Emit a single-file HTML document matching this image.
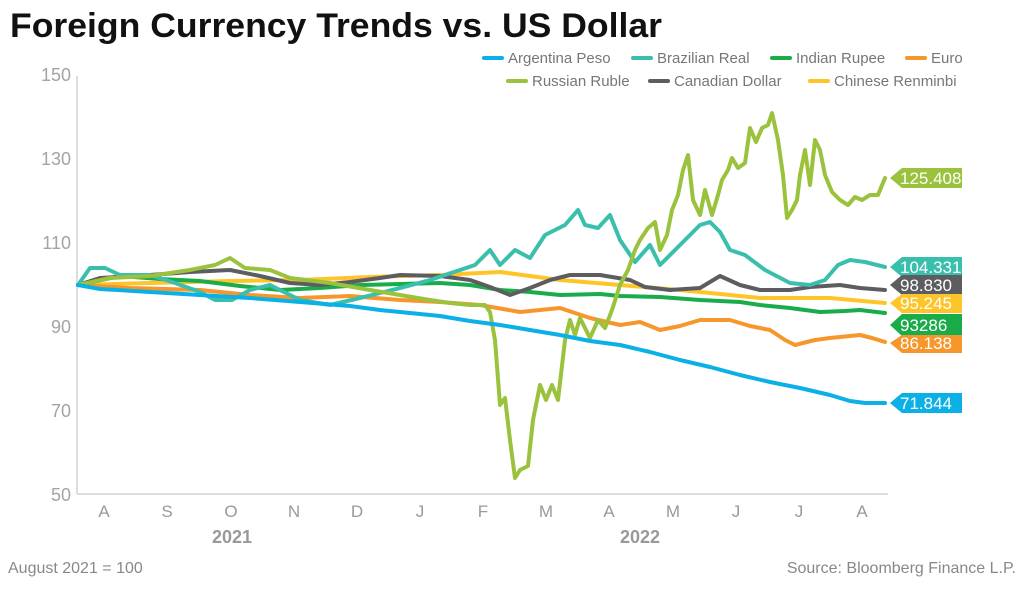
<!DOCTYPE html><html><head><style>body{margin:0;background:#fff;width:1024px;height:588px;overflow:hidden;font-family:"Liberation Sans",sans-serif}</style></head><body>
<svg width="1024" height="588" xmlns="http://www.w3.org/2000/svg" font-family="Liberation Sans, sans-serif">
<text x="10" y="37" font-size="34" font-weight="bold" fill="#111" textLength="652" lengthAdjust="spacingAndGlyphs">Foreign Currency Trends vs. US Dollar</text>
<g font-size="15" fill="#777">
<line x1="484" y1="58" x2="502" y2="58" stroke="#0ab0e6" stroke-width="4" stroke-linecap="round"/><text x="508" y="63">Argentina Peso</text>
<line x1="633" y1="58" x2="651" y2="58" stroke="#3bbfad" stroke-width="4" stroke-linecap="round"/><text x="657" y="63">Brazilian Real</text>
<line x1="772" y1="58" x2="790" y2="58" stroke="#1aac4a" stroke-width="4" stroke-linecap="round"/><text x="796" y="63">Indian Rupee</text>
<line x1="907" y1="58" x2="925" y2="58" stroke="#f7962a" stroke-width="4" stroke-linecap="round"/><text x="931" y="63">Euro</text>
<line x1="508" y1="81" x2="526" y2="81" stroke="#9bc23c" stroke-width="4" stroke-linecap="round"/><text x="532" y="86">Russian Ruble</text>
<line x1="650" y1="81" x2="668" y2="81" stroke="#5d5d61" stroke-width="4" stroke-linecap="round"/><text x="674" y="86">Canadian Dollar</text>
<line x1="810" y1="81" x2="828" y2="81" stroke="#fdc52a" stroke-width="4" stroke-linecap="round"/><text x="834" y="86">Chinese Renminbi</text>
</g>
<g font-size="18" fill="#a3a3a8" text-anchor="end">
<text x="71" y="81">150</text><text x="71" y="165">130</text><text x="71" y="249">110</text><text x="71" y="333">90</text><text x="71" y="417">70</text><text x="71" y="501">50</text>
</g>
<line x1="77" y1="76" x2="77" y2="494" stroke="#ddd" stroke-width="2"/>
<line x1="77" y1="494" x2="888" y2="494" stroke="#ddd" stroke-width="2"/>
<g font-size="17" fill="#999" text-anchor="middle">
<text x="104" y="517">A</text><text x="167" y="517">S</text><text x="231" y="517">O</text><text x="294" y="517">N</text><text x="357" y="517">D</text><text x="420" y="517">J</text><text x="483" y="517">F</text><text x="546" y="517">M</text><text x="609" y="517">A</text><text x="673" y="517">M</text><text x="736" y="517">J</text><text x="799" y="517">J</text><text x="862" y="517">A</text>
<text x="232" y="543" font-weight="bold" font-size="18">2021</text><text x="640" y="543" font-weight="bold" font-size="18">2022</text>
</g>
<g fill="none" stroke-width="4" stroke-linejoin="round" stroke-linecap="round">
<polyline stroke="#fdc52a" points="78,285 150,283 230,281 300,280 370,277 440,275 500,272 560,280 620,285 680,290 760,298 830,298 885,303"/>
<polyline stroke="#f7962a" points="78,285 130,288 200,290 250,295 300,298 350,296 400,300 440,302 480,305 520,312 560,308 590,318 620,325 640,322 660,330 680,326 700,320 730,320 750,326 770,330 785,340 795,345 815,340 830,338 860,335 872,338 885,342"/>
<polyline stroke="#1aac4a" points="78,285 120,276 160,279 200,281 240,286 280,290 320,288 360,285 400,284 440,283 470,285 500,290 530,292 560,295 600,294 620,296 660,297 700,300 740,302 760,305 790,308 820,312 845,311 860,310 885,313"/>
<polyline stroke="#5d5d61" points="78,285 100,278 150,275 190,272 230,270 260,276 290,283 320,285 350,282 380,278 400,275 440,276 470,280 490,287 510,295 530,288 550,280 570,275 600,275 630,280 645,287 670,290 700,288 720,276 740,285 760,290 790,290 810,287 840,285 860,288 885,290"/>
<polyline stroke="#3bbfad" points="78,285 90,268 105,268 120,275 150,275 175,283 200,292 215,300 232,300 250,290 270,285 300,300 330,305 360,298 400,288 430,280 460,270 475,265 490,250 500,265 515,250 530,258 545,235 565,225 578,210 585,225 598,228 610,215 620,240 635,262 650,245 660,265 680,245 700,225 710,222 720,232 730,250 745,255 765,270 790,283 810,285 825,280 838,265 850,260 865,262 885,267"/>
<polyline stroke="#9bc23c" points="78,285 110,278 150,276 190,270 215,265 230,258 245,268 270,270 290,278 330,283 370,290 400,295 430,300 450,303 470,305 485,305 490,312 495,340 500,405 505,398 510,440 515,478 520,470 528,466 533,420 540,385 546,400 552,385 558,400 565,340 570,320 575,335 580,318 590,338 598,320 605,328 612,310 620,285 628,270 635,250 640,240 648,228 655,222 660,250 667,235 672,210 678,195 683,170 688,155 693,200 700,215 705,190 712,215 718,195 722,180 728,170 732,158 738,168 745,163 750,128 756,142 762,128 768,125 772,113 778,140 783,175 787,218 792,210 797,200 800,175 805,150 810,185 815,140 820,150 825,175 832,192 840,200 848,205 855,197 862,200 870,195 878,195 885,178"/>
<polyline stroke="#0ab0e6" points="78,285 100,289 150,292 200,295 250,298 300,302 350,306 380,310 410,313 440,316 470,321 500,325 530,330 560,335 590,341 620,345 650,352 680,360 710,367 740,375 770,382 800,388 830,395 850,401 865,403 885,403"/>
</g>
<g font-size="17" fill="#fff">
<path d="M890,178 L902,168 L962,168 L962,188 L902,188Z" fill="#9bc23c"/><text x="900" y="184">125.408</text>
<path d="M890,267 L902,257 L962,257 L962,277 L902,277Z" fill="#3bbfad"/><text x="900" y="273">104.331</text>
<path d="M890,285 L902,275 L962,275 L962,295 L902,295Z" fill="#5d5d61"/><text x="900" y="291">98.830</text>
<path d="M890,303 L902,294 L962,294 L962,313 L902,313Z" fill="#fdc52a"/><text x="900" y="309">95.245</text>
<path d="M890,325 L902,314 L962,314 L962,336 L902,336Z" fill="#1aac4a"/><text x="900" y="331">93286</text>
<path d="M890,343 L902,335 L962,335 L962,353 L902,353Z" fill="#f7962a"/><text x="900" y="349">86.138</text>
<path d="M890,403 L902,393 L962,393 L962,413 L902,413Z" fill="#0ab0e6"/><text x="900" y="409">71.844</text>
</g>
<text x="8" y="573" font-size="16" fill="#888">August 2021 = 100</text>
<text x="1016" y="573" font-size="16" fill="#888" text-anchor="end">Source: Bloomberg Finance L.P.</text>
</svg></body></html>
